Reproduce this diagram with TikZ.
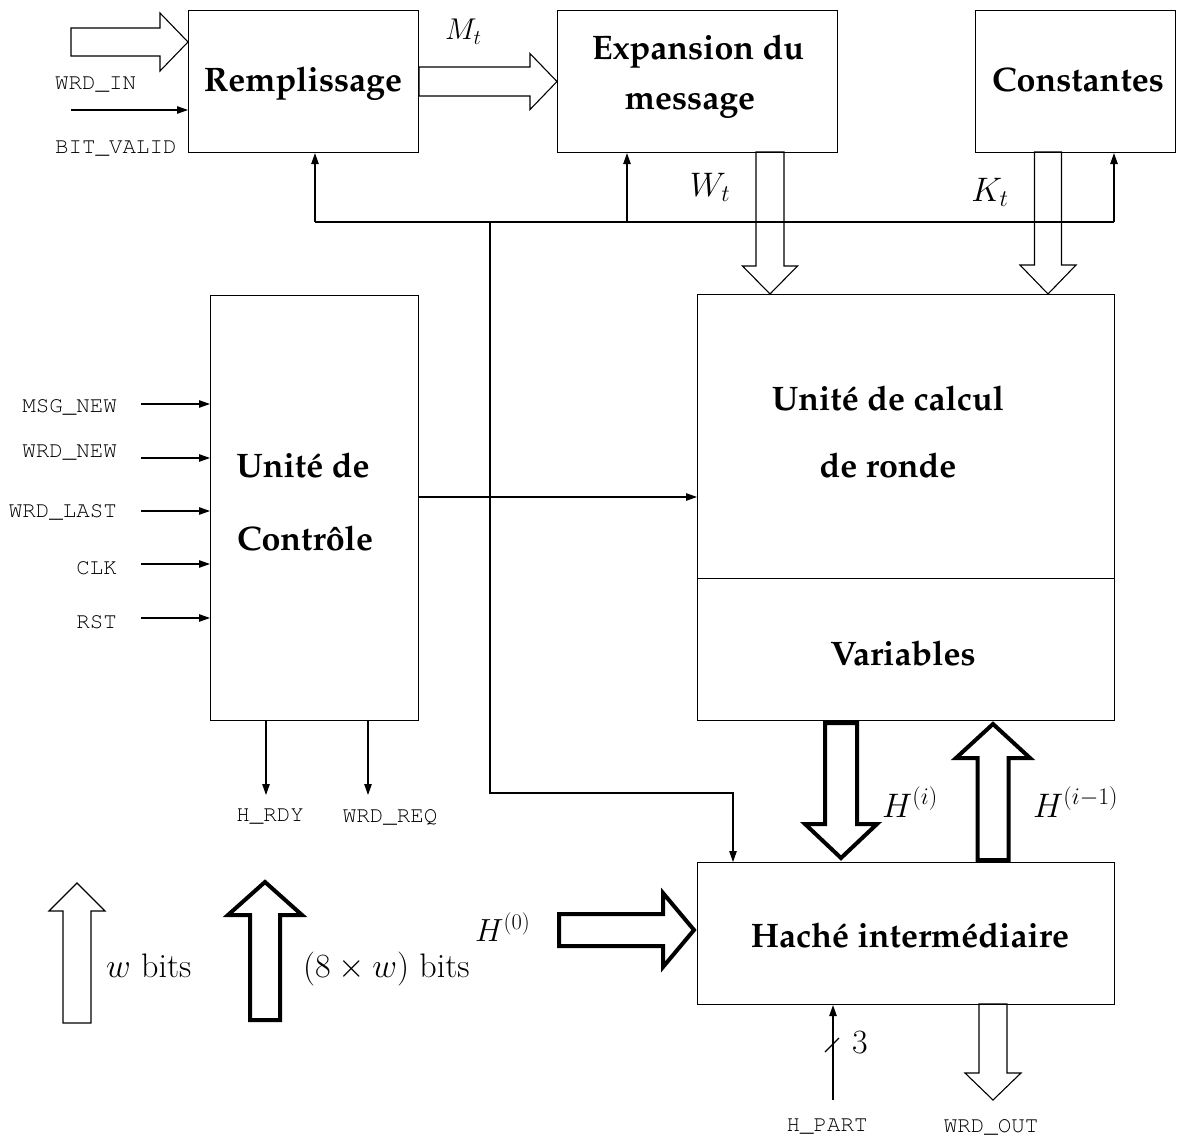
\documentclass[tikz,border=0pt]{standalone}
\usepackage{fix-cm}
\usepackage[T1,TU]{fontenc}
\usepackage{fontspec}
\newfontfamily\monof{Liberation Mono}
\newfontfamily\libserif{Liberation Serif}
\usetikzlibrary{arrows.meta,calc}
\def\palnone{none}
\IfFileExists{t1qpl.fd}{\def\palfam{qpl}}{\IfFileExists{t1ppl.fd}{\def\palfam{ppl}}{\IfFileExists{t1pplx.fd}{\def\palfam{pplx}}{\def\palfam{none}}}}
\def\monnone{none}
\IfFileExists{t1pcr.fd}{\def\monfam{pcr}}{\def\monfam{none}}
\newcommand\bfpal{\fontsize{34}{40}\selectfont\ifx\palfam\palnone\libserif\bfseries\else\fontencoding{T1}\fontfamily{\palfam}\fontseries{b}\fontshape{n}\selectfont\fi}
\newcommand\monsel{\ifx\monfam\monnone\monof\else\fontencoding{T1}\fontfamily{\monfam}\fontseries{m}\fontshape{n}\selectfont\fi\fontsize{22.5}{27}\selectfont}
\newcommand\fatarrow[6]{%
  \coordinate (faT) at (#3);
  \coordinate (faB) at ($(#3)!#6!(#2)$);
  \draw[#1] ($(#2)!#4!90:(#3)$) -- ($(faB)!#4!90:(faT)$) -- ($(faB)!#5!90:(faT)$) -- (faT)
     -- ($(faB)!#5!-90:(faT)$) -- ($(faB)!#4!-90:(faT)$) -- ($(#2)!#4!-90:(#3)$) -- cycle;}
\tikzset{
  box/.style={draw, line width=1.1pt, inner sep=0pt, anchor=north west},
  sig/.style={line width=1.1pt, -{Triangle[length=11pt,width=7.5pt]}},
  wire/.style={line width=1.1pt},
  btxt/.style={font=\bfpal, inner sep=0pt, anchor=base},
  mtxt/.style={font=\monsel, inner sep=0pt},
  bigtxt/.style={font=\fontsize{34}{40}\selectfont, inner sep=0pt},
  midtxt/.style={font=\fontsize{30}{34}\selectfont, inner sep=0pt},
  hollow/.style={line width=1.1pt, line join=miter},
  boldarrow/.style={line width=4pt, line join=miter},
}
\begin{document}
\begin{tikzpicture}[x=1pt,y=-1pt]
\useasboundingbox (0,0) rectangle (1184,1137);
% boxes
\node[box, minimum width=230pt, minimum height=142pt] (remp) at (188,10) {};
\node[box, minimum width=280pt, minimum height=142pt] (expa) at (557,10) {};
\node[box, minimum width=200pt, minimum height=142pt] (cons) at (975,10) {};
\node[box, minimum width=208pt, minimum height=425pt] (ctrl) at (210,295) {};
\node[box, minimum width=417pt, minimum height=284pt] (calc) at (697,294) {};
\node[box, minimum width=417pt, minimum height=142pt] (vars) at (697,578) {};
\node[box, minimum width=417pt, minimum height=142pt] (hache) at (697,862) {};
% box texts
\node[btxt] (tremp) at (303,92) {Remplissage};
\node[btxt] (texp1) at (698,60) {Expansion du};
\node[btxt] (texp2) at (690,110) {message};
\node[btxt] (tcons) at (1078,92) {Constantes};
\node[btxt] (tctl1) at (303,477) {Unité de};
\node[btxt] (tctl2) at (305,550) {Contrôle};
\node[btxt] (tcal1) at (888,410) {Unité de calcul};
\node[btxt] (tcal2) at (888,477) {de ronde};
\node[btxt] (tvars) at (903,665) {Variables};
\node[btxt] (thach) at (910,947) {Haché intermédiaire};
% inputs of Remplissage
\coordinate (wi) at (71,42);
\coordinate (wiE) at (188,42);
\fatarrow{hollow}{wi}{wiE}{14pt}{29pt}{28pt}
\node[mtxt, anchor=west] (lwi) at (55,85) {WRD\_IN};
\coordinate (bv) at (71,110);
\draw[sig] (bv) -- (bv -| remp.west);
\node[mtxt, anchor=west] (lbv) at (55,149) {BIT\_VALID};
% M_t
\fatarrow{hollow}{remp.east}{expa.west}{14.5pt}{28pt}{27pt}
\node[midtxt, anchor=base west] (lmt) at (445,40) {$M_t$};
% W_t and K_t
\coordinate (wS) at (770,152);
\coordinate (wE) at (770,294);
\fatarrow{hollow}{wS}{wE}{14pt}{27.5pt}{28pt}
\coordinate (kS) at (1048,152);
\coordinate (kE) at (1048,294);
\fatarrow{hollow}{kS}{kE}{13.5pt}{28pt}{29pt}
\node[bigtxt] (lwt) at (710,187) {$W_t$};
\node[bigtxt] (lkt) at (990,192) {$K_t$};
% bus
\coordinate (b1) at (315,222);
\coordinate (b2) at (627,222);
\coordinate (b3) at (1114,222);
\coordinate (b4) at (490,222);
\coordinate (b5) at (490,793);
\coordinate (b6) at (733,793);
\draw[wire] (b1) -- (b3);
\draw[sig] (b1) -- (b1 |- remp.south);
\draw[sig] (b2) -- (b2 |- expa.south);
\draw[sig] (b3) -- (b3 |- cons.south);
\draw[sig] (b4) -- (b5) -- (b6) -- (b6 |- hache.north);
% control inputs
\foreach \nm/\yy/\ly/\txt in {msg/404/407/MSG\_NEW, wnew/458/453/WRD\_NEW, wlast/511/512/WRD\_LAST, clk/564/568/CLK, rst/618/622/RST}{
  \coordinate (i\nm) at (141,\yy);
  \draw[sig] (i\nm) -- (i\nm -| ctrl.west);
  \node[mtxt, anchor=east] (l\nm) at (117,\ly) {\txt};
}
% control to calc
\coordinate (cc) at (418,497);
\draw[sig] (cc -| ctrl.east) -- (cc -| calc.west);
% control outputs
\coordinate (ohr) at (266,795);
\coordinate (owr) at (368,795);
\draw[sig] (ohr |- ctrl.south) -- (ohr);
\draw[sig] (owr |- ctrl.south) -- (owr);
\node[mtxt] (lhr) at (270,817) {H\_RDY};
\node[mtxt] (lwr) at (390,817) {WRD\_REQ};
% H arrows
\coordinate (hiS) at (841,723);
\coordinate (hiE) at (841,858);
\fatarrow{boldarrow}{hiS}{hiE}{16pt}{36pt}{34pt}
\coordinate (hjS) at (993,860);
\coordinate (hjE) at (993,724);
\fatarrow{boldarrow}{hjS}{hjE}{15.5pt}{37pt}{34pt}
\node[bigtxt, anchor=base west] (lhi) at (882,817) {$H^{(i)}$};
\node[bigtxt, anchor=base west] (lhj) at (1033,817) {$H^{(i-1)}$};
\coordinate (h0S) at (559,930);
\coordinate (h0E) at (694,930);
\fatarrow{boldarrow}{h0S}{h0E}{16pt}{37pt}{31pt}
\node[font=\fontsize{32}{36}\selectfont, inner sep=0pt, anchor=base west] (lh0) at (475,941) {$H^{(0)}$};
% H_PART
\coordinate (hp) at (833,1100);
\draw[sig] (hp) -- (hp |- hache.south);
\coordinate (sl1) at (825,1052);
\coordinate (sl2) at (839,1038);
\draw[wire] (sl1) -- (sl2);
\node[bigtxt, anchor=base west] (l3) at (852,1053) {3};
\node[mtxt] (lhp) at (827,1127) {H\_PART};
% WRD_OUT
\coordinate (woS) at (993,1004);
\coordinate (woE) at (993,1100);
\fatarrow{hollow}{woS}{woE}{14pt}{28pt}{27pt}
\node[mtxt] (lwo) at (991,1127) {WRD\_OUT};
% legend
\coordinate (lgS) at (77,1023);
\coordinate (lgE) at (77,883);
\fatarrow{hollow}{lgS}{lgE}{14pt}{28pt}{28pt}
\node[bigtxt, anchor=base west] (lw) at (106,977) {$w$ bits};
\coordinate (lbS) at (265,1020);
\coordinate (lbE) at (265,882);
\fatarrow{boldarrow}{lbS}{lbE}{15pt}{37pt}{33pt}
\node[bigtxt, anchor=base west] (l8w) at (303,977) {$(8\times w)$ bits};
\end{tikzpicture}
\end{document}
